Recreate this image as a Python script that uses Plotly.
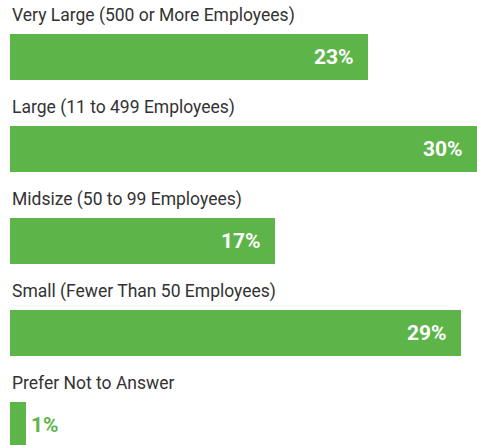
import plotly.graph_objects as go

# Company size breakdown (share of respondents, %)
categories = [
    "Very Large (500 or More Employees)",
    "Large (11 to 499 Employees)",
    "Midsize (50 to 99 Employees)",
    "Small (Fewer Than 50 Employees)",
    "Prefer Not to Answer",
]
shares = [23, 30, 17, 29, 1]
value_labels = [f"{v}%" for v in shares]

GREEN = "#5DB449"
TEXT = "#333333"
LABEL_FONT = "Roboto, 'Noto Sans', sans-serif"

fig = go.Figure(
    go.Bar(
        x=shares,
        y=categories,
        orientation="h",
        width=0.5,
        marker=dict(color=GREEN, line=dict(width=0)),
        hoverinfo="skip",
    )
)

annotations = []
for cat, val, lab in zip(categories, shares, value_labels):
    # category name above each bar
    annotations.append(dict(
        x=0, xref="x", xanchor="left",
        y=cat, yref="y", yanchor="middle", yshift=42,
        text=cat, showarrow=False,
        font=dict(family=LABEL_FONT, size=17.5, color=TEXT),
    ))
    # value label: inside the bar end when it fits, otherwise just past it
    fits = val >= 4
    annotations.append(dict(
        x=val, xref="x", xanchor="right" if fits else "left",
        xshift=-12 if fits else 3,
        y=cat, yref="y", yanchor="middle",
        text=lab, showarrow=False,
        font=dict(family=LABEL_FONT, size=21, weight="bold",
                  color="white" if fits else GREEN),
    ))

fig.update_layout(
    width=477, height=445,
    margin=dict(l=10, r=0, t=0, b=0),
    paper_bgcolor="white", plot_bgcolor="white",
    showlegend=False,
    bargap=0,
    xaxis=dict(range=[0, 30], visible=False, fixedrange=True),
    yaxis=dict(
        type="category", categoryorder="array", categoryarray=categories,
        range=[4.217, -0.62], autorange=False, visible=False, fixedrange=True,
    ),
    annotations=annotations,
)

fig.write_html("out.html", config={"displayModeBar": False})
